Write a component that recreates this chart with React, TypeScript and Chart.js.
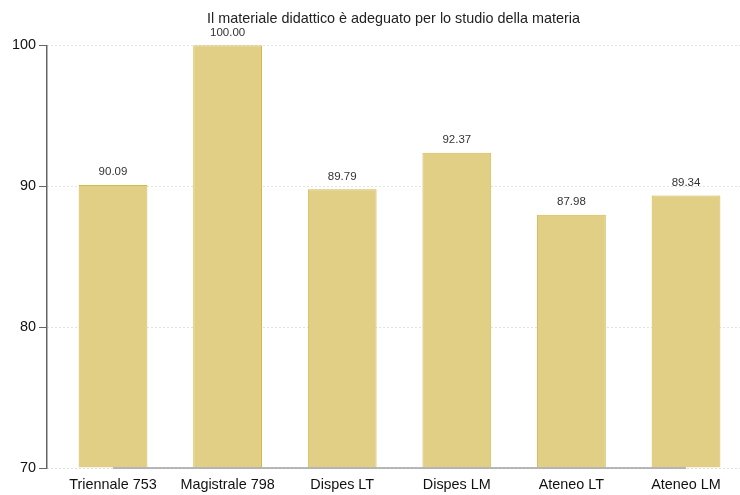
import React, { useEffect, useRef } from "react";
import { Chart, registerables } from "chart.js";

Chart.register(...registerables);

const title = "Il materiale didattico è adeguato per lo studio della materia";
const categories = ["Triennale 753", "Magistrale 798", "Dispes LT", "Dispes LM", "Ateneo LT", "Ateneo LM"];
const values = [90.09, 100.0, 89.79, 92.37, 87.98, 89.34];
const yTicks = [70, 80, 90, 100];

const FONT = "'Liberation Sans', Arial, sans-serif";

const valueLabels = {
  id: "valueLabels",
  afterDatasetsDraw(chart: any) {
    const ctx = chart.ctx;
    const meta = chart.getDatasetMeta(0);
    ctx.save();
    ctx.font = `11.5px ${FONT}`;
    ctx.fillStyle = "#333333";
    ctx.textAlign = "center";
    ctx.textBaseline = "bottom";
    meta.data.forEach((bar: any, i: number) => {
      ctx.fillText(values[i].toFixed(2), bar.x, bar.y - 7);
    });
    ctx.restore();
  },
};

const baseLine = {
  id: "baseLine",
  afterDatasetsDraw(chart: any) {
    const ctx = chart.ctx;
    const xs = chart.scales.x;
    const ys = chart.scales.y;
    const y = ys.getPixelForValue(70);
    ctx.save();
    ctx.strokeStyle = "#a0a0a0";
    ctx.lineWidth = 1.5;
    ctx.beginPath();
    ctx.moveTo(xs.getPixelForValue(0), y);
    ctx.lineTo(xs.getPixelForValue(categories.length - 1), y);
    ctx.stroke();
    ctx.restore();
  },
};

export default function App() {
  const ref = useRef<HTMLCanvasElement>(null);
  useEffect(() => {
    if (!ref.current) return;
    const chart = new Chart(ref.current, {
      type: "bar",
      data: {
        datasets: [
          {
            data: values.map((v, i) => ({ x: i, y: v })),
            backgroundColor: "#e0cf85",
            borderColor: "#d4b84a",
            borderWidth: 1,
            barPercentage: 0.6,
            categoryPercentage: 1,
            base: 70,
          },
        ],
      },
      options: {
        animation: false,
        responsive: false,
        layout: { padding: { top: 0, right: 0, bottom: 2, left: 0 } },
        plugins: {
          legend: { display: false },
          tooltip: { enabled: false },
          title: {
            display: true,
            text: title,
            fullSize: false,
            color: "#222222",
            font: { family: FONT, size: 14.4, weight: "normal" },
            padding: { top: 10, bottom: 18 },
          },
        },
        scales: {
          x: {
            type: "linear",
            offset: false,
            min: -0.576,
            max: 5.471,
            afterBuildTicks: (scale: any) => {
              scale.ticks = categories.map((_, i) => ({ value: i }));
            },
            afterFit: (scale: any) => {
              scale.height = 25;
            },
            ticks: {
              callback: (v: any) => categories[v as number] ?? "",
              color: "#111111",
              font: { family: FONT, size: 14.4 },
              padding: 8,
              maxRotation: 0,
              autoSkip: false,
            },
            grid: { display: false, drawTicks: false, offset: false },
            border: { display: false },
          },
          y: {
            type: "linear",
            min: 70,
            max: 100,
            afterBuildTicks: (scale: any) => {
              scale.ticks = yTicks.map((v) => ({ value: v }));
            },
            afterFit: (scale: any) => {
              scale.width = 47;
            },
            ticks: {
              color: "#111111",
              font: { family: FONT, size: 14.4 },
              padding: 3,
            },
            grid: {
              color: "#c4c4c4",
              tickColor: "#666666",
              tickBorderDash: [],
              tickLength: 8,
              lineWidth: 1,
            },
            border: { display: true, color: "#666666", width: 1.5, dash: [1, 3] },
          },
        },
      },
      plugins: [valueLabels, baseLine],
    });
    return () => chart.destroy();
  }, []);
  return (
    <div style={{ position: "absolute", left: 0, top: 0, width: 740, height: 495, background: "#fff" }}>
      <canvas ref={ref} width={740} height={495} style={{ width: 740, height: 495 }} />
    </div>
  );
}
